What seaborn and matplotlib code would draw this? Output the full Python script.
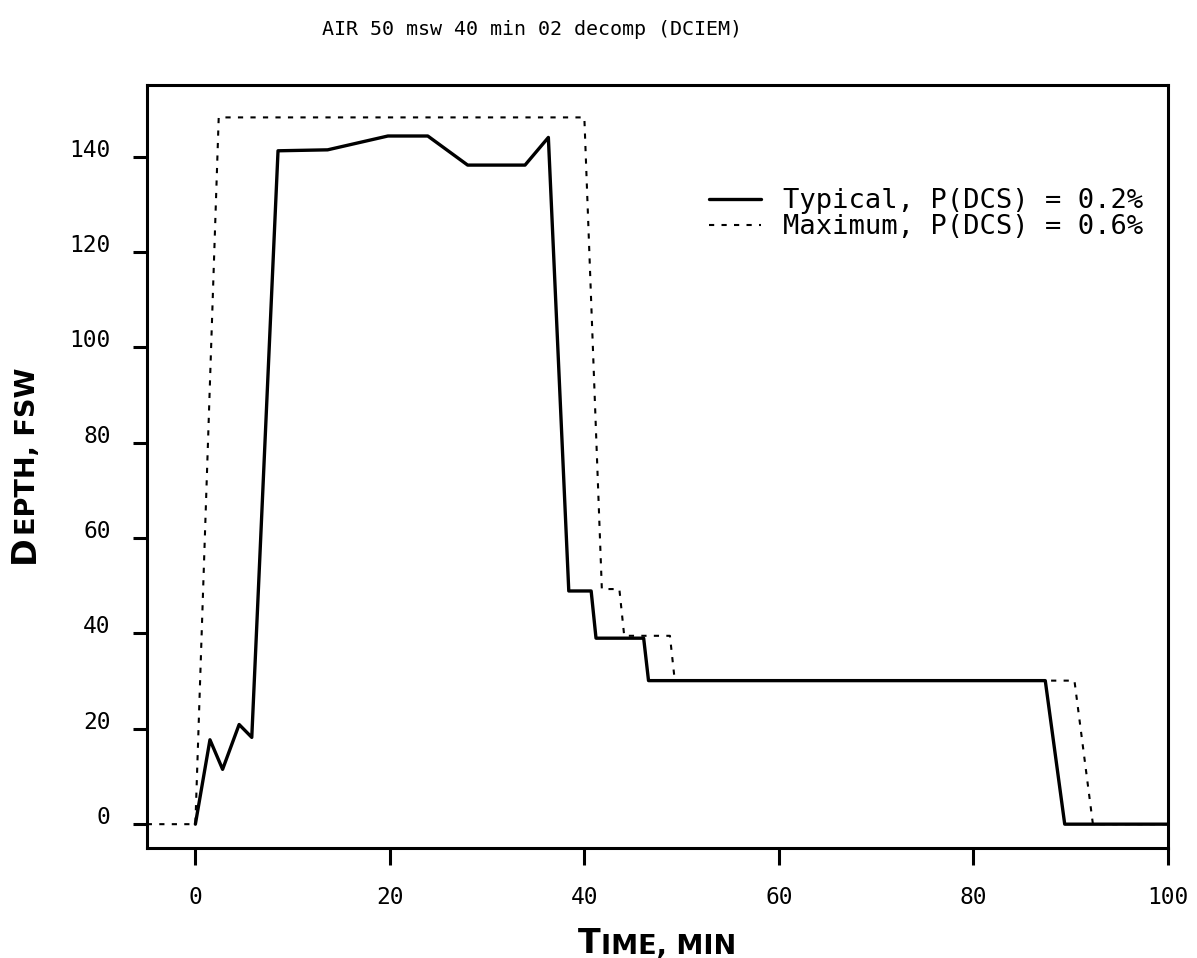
import matplotlib
matplotlib.use("Agg")
import matplotlib.pyplot as plt
import seaborn as sns

# dive profiles (time in min, depth in fsw)
typ_time = [0, 1.5, 2.8, 4.5, 5.8, 8.5, 13.6, 19.8, 23.9, 28.0, 33.9, 36.3,
            38.4, 40.7, 41.2, 46.1, 46.6, 87.4, 89.4, 100]
typ_depth = [0, 17.7, 11.5, 20.9, 18.2, 141.2, 141.4, 144.3, 144.3, 138.2, 138.2, 144.0,
             48.9, 48.9, 39.0, 39.0, 30.1, 30.1, 0, 0]
max_time = [-5, 0, 2.4, 40.0, 41.8, 43.6, 44.1, 48.8, 49.3, 90.4, 92.3, 100]
max_depth = [0, 0, 148.2, 148.2, 49.3, 49.3, 39.5, 39.5, 30.1, 30.1, 0, 0]

labels = ["Typical, P(DCS) = 0.2%", "Maximum, P(DCS) = 0.6%"]
title = "AIR 50 msw 40 min 02 decomp (DCIEM)"
xticks = [0, 20, 40, 60, 80, 100]
yticks = [0, 20, 40, 60, 80, 100, 120, 140]

sns.set_theme(style="ticks")
mono = "DejaVu Sans Mono"

fig = plt.figure(figsize=(11.97, 9.58), dpi=100)
ax = fig.add_axes([0.1226, 0.1148, 0.853, 0.7965])

sns.lineplot(x=typ_time, y=typ_depth, estimator=None, sort=False, color="black",
             linewidth=2.4, label=labels[0], ax=ax)
sns.lineplot(x=max_time, y=max_depth, estimator=None, sort=False, color="black",
             linewidth=1.5, linestyle=(0, (2.5, 3.5)), label=labels[1], ax=ax)

ax.set_xlim(-5, 100)
ax.set_ylim(-5, 155)
ax.set_xticks(xticks)
ax.set_yticks(yticks)
ax.set_xlabel("")
ax.set_ylabel("")
for s in ax.spines.values():
    s.set_linewidth(2.2)
    s.set_color("black")
ax.tick_params(axis="x", direction="out", length=12, width=2.2, pad=15,
               labelsize=16.5, colors="black")
ax.tick_params(axis="y", direction="out", length=10, width=2.2, pad=16,
               labelsize=16.5, colors="black")
for lbl in ax.get_xticklabels() + ax.get_yticklabels():
    lbl.set_family(mono)
for lbl in ax.get_yticklabels():
    lbl.set_va("baseline")

ax.legend(loc="upper right", bbox_to_anchor=(0.976, 0.865), frameon=False,
          prop={"family": mono, "size": 19.5}, labelcolor="black",
          handlelength=1.93, handletextpad=0.8,
          labelspacing=0.0, borderpad=0, borderaxespad=0)

fig.text(0.4445, 1 - 35 / 958, title, family=mono, fontsize=14.4, ha="center",
         va="baseline", color="black")

# small caps style axis labels
t = fig.text(578 / 1197, (958 - 952.7) / 958, "T", fontsize=24, weight="bold",
             ha="left", va="baseline", color="black")
ax.annotate("IME, MIN", xy=(1, 0), xycoords=t, fontsize=19.5, weight="bold",
            ha="left", va="bottom", color="black")
d = fig.text(41 / 1197, 1 - 563 / 958, "D", fontsize=24, weight="bold", rotation=90,
             rotation_mode="anchor", ha="left", va="bottom", color="black")
ax.annotate("EPTH, FSW", xy=(1, 1), xycoords=d, fontsize=19.5, weight="bold",
            rotation=90, rotation_mode="anchor", ha="left", va="bottom", color="black")

fig.savefig("out.png", dpi=100, facecolor="white")
